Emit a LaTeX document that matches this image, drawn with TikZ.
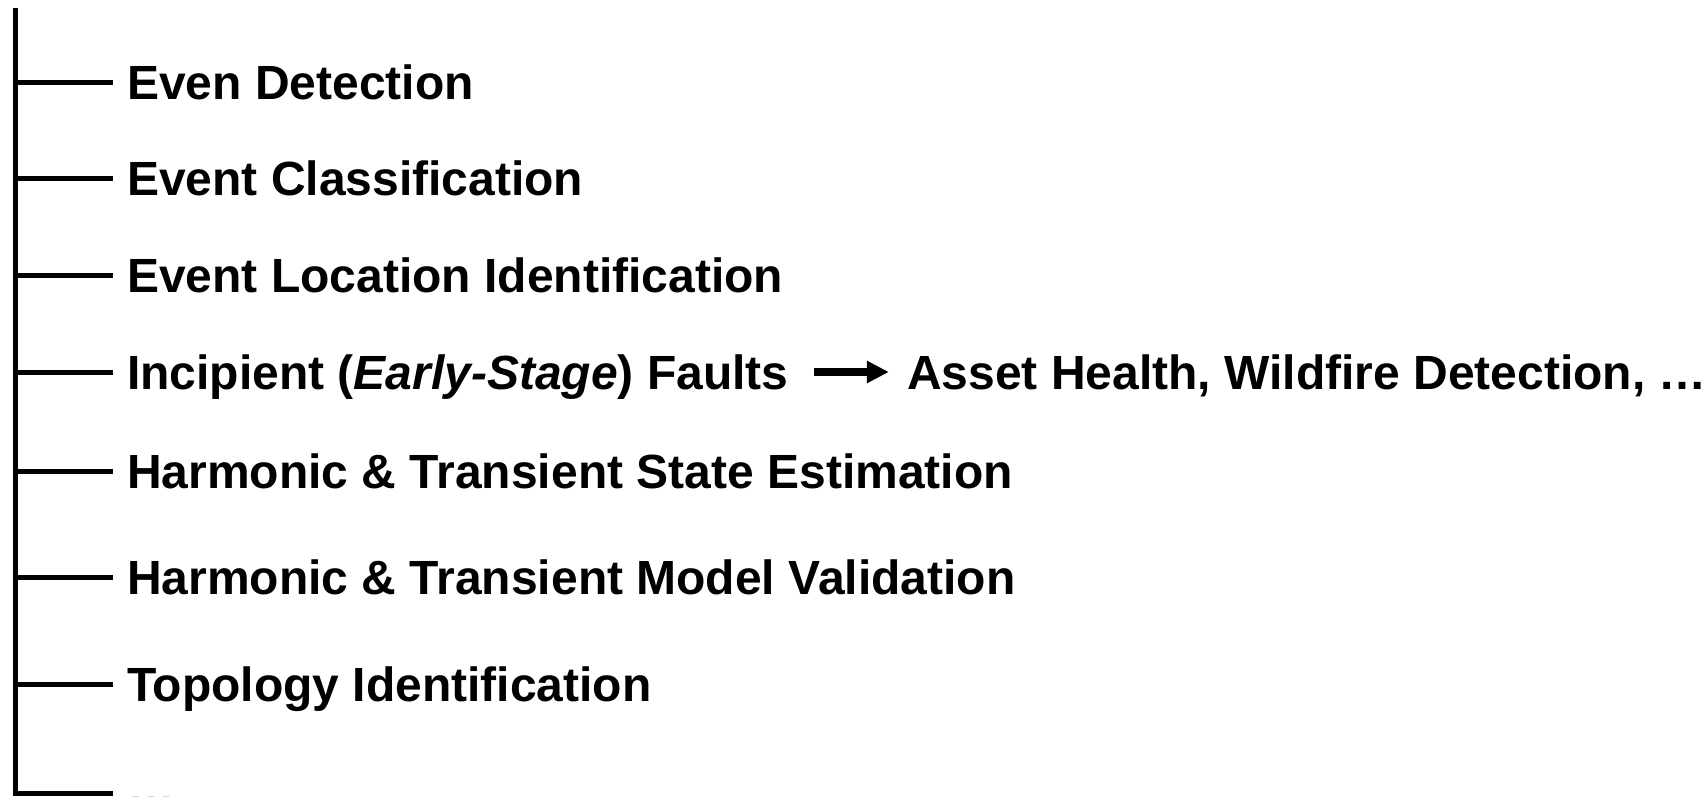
\documentclass[tikz,border=0pt]{standalone}
\usepackage{fontspec}
\setmainfont{Liberation Sans}
\usetikzlibrary{arrows.meta,calc}
\begin{document}
\begin{tikzpicture}[x=1pt,y=-1pt,
  item/.style={anchor=base west,inner xsep=14pt,inner ysep=0pt,
    font=\fontsize{48}{52}\selectfont\bfseries},
  branch/.style={line width=5pt},
  arr/.style={line width=7.5pt,-{Triangle[length=22pt,width=21pt]}}]
\useasboundingbox (0,0) rectangle (1707,796);
\clip (0,0) rectangle (1707,796);
\coordinate (top) at (15,10);
\coordinate (bot) at (15,793);
\foreach \i/\y in {1/82,2/178,3/275,4/372,5/471,6/577,7/684,8/793}{
  \coordinate (b\i) at (15,\y);
}
\node[item] (r1) at (113,99) {Even Detection};
\node[item] (r2) at (113,195) {Event Classification};
\node[item] (r3) at (113,292) {Event Location Identification};
\node[item] (r4) at (113,389) {Incipient (\textit{Early-Stage}) Faults};
\node[item] (r5) at (113,488) {Harmonic \& Transient State Estimation};
\node[item] (r6) at (113,594) {Harmonic \& Transient Model Validation};
\node[item] (r7) at (113,701) {Topology Identification};
\node[item] (r8) at (113,804) {\dots};
\node[item,inner xsep=0pt] (asset) at ($(r4.base east)+(104,0)$) {Asset Health, Wildfire Detection, \dots};
\draw[branch,line cap=rect] (top) -- (bot);
\foreach \i in {1,...,8}{
  \draw[branch] (b\i) -- (b\i -| r\i.west);
}
\draw[arr,shorten <=11pt,shorten >=18pt] (r4.east |- b4) -- (asset.west |- b4);
\end{tikzpicture}
\end{document}
